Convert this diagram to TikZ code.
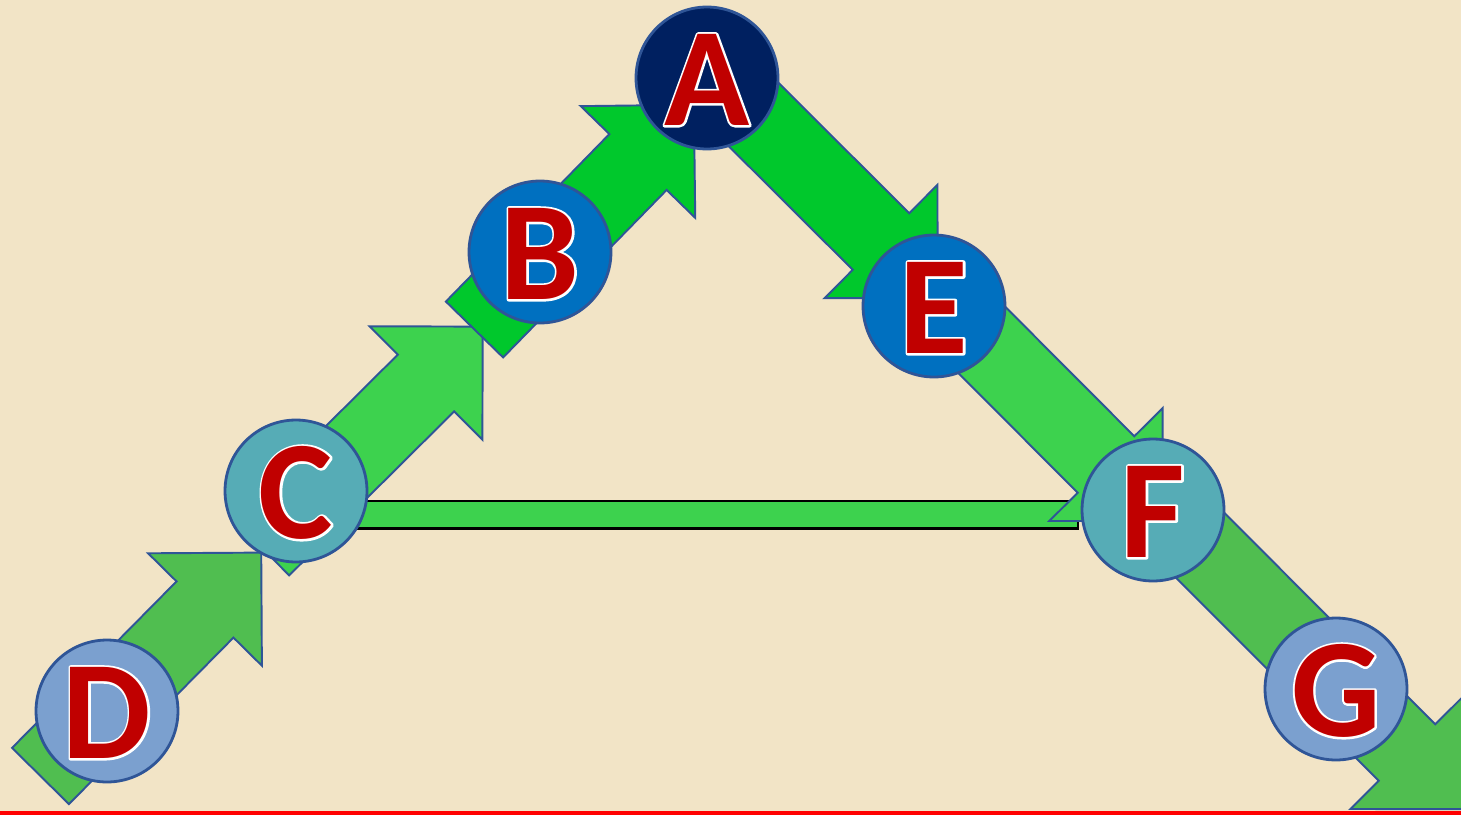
\documentclass[tikz,border=0pt]{standalone}
\usepackage{fontspec}
\setmainfont{Carlito}
\usetikzlibrary{calc}

\definecolor{paper}{HTML}{F2E4C6}
\definecolor{navyfill}{HTML}{002060}
\definecolor{bluefill}{HTML}{0070C0}
\definecolor{tealfill}{HTML}{56ACB6}
\definecolor{palefill}{HTML}{7BA0CF}
\definecolor{edgeblue}{HTML}{2F5597}
\definecolor{letterred}{HTML}{C00000}
\definecolor{greendeep}{HTML}{00C82C}
\definecolor{greenlight}{HTML}{3DD24E}
\definecolor{greenmid}{HTML}{50BE50}

% red letter with a thin white rim
\newcommand{\rimmed}[1]{%
  \special{pdf:literal direct 1 1 1 RG 2.4 w 1 j 1 Tr}\rlap{#1}%
  \special{pdf:literal direct 0 Tr}#1}

\tikzset{
  letter/.style={circle, draw=edgeblue, line width=1.6pt, minimum size=2.84cm,
    inner sep=0pt, text height=1.9cm, text depth=0pt, text=letterred,
    font=\bfseries\fontsize{80}{80}\selectfont},
  fat/.style={draw=edgeblue, line width=1.1pt, line join=miter},
  bar/.style={draw=black, line width=1.2pt, fill=greenlight},
}

% block arrow: fill colour, tail centre, centre of the head base
\newcommand{\fatarrow}[3]{%
  \draw[fat, fill=#1] ($(#2)!0.8cm!90:(#3)$) -- ($(#3)!0.8cm!-90:(#2)$)
    -- ($(#3)!1.6cm!-90:(#2)$) -- ($(#3)!1.6cm!180:(#2)$)
    -- ($(#3)!1.6cm!90:(#2)$) -- ($(#3)!0.8cm!90:(#2)$)
    -- ($(#2)!0.8cm!-90:(#3)$) -- cycle;
}

\begin{document}
\begin{tikzpicture}[x=0.02cm, y=-0.02cm]
  % page
  \useasboundingbox (0,0) rectangle (1461,815);
  \fill[paper] (0,0) rectangle (1461,815);
  \clip (0,0) rectangle (1461,815);

  % arrow ends
  \coordinate (dc-t) at (40.5,776);
  \coordinate (dc-h) at (205,609.5);
  \coordinate (cb-t) at (261,547);
  \coordinate (cb-h) at (426,383);
  \coordinate (ba-t) at (474.5,329.5);
  \coordinate (ba-h) at (638,162);
  \coordinate (ae-t) at (725,86);
  \coordinate (ae-h) at (881,241.5);
  \coordinate (ef-t) at (950,308);
  \coordinate (ef-h) at (1106,464.5);
  \coordinate (fg-t) at (1165,510);
  \coordinate (fg-h) at (1407,752.5);
  \coordinate (cf-l) at (310,501);
  \coordinate (cf-r) at (1078,528.5);

  % draw arrows
  \draw[bar] (cf-l) rectangle (cf-r);
  \fatarrow{greenmid}{dc-t}{dc-h}
  \fatarrow{greenlight}{cb-t}{cb-h}
  \fatarrow{greendeep}{ba-t}{ba-h}
  \fatarrow{greendeep}{ae-t}{ae-h}
  \fatarrow{greenlight}{ef-t}{ef-h}
  \fatarrow{greenmid}{fg-t}{fg-h}

  % vertices
  \node[letter, fill=navyfill] (A) at (707,78) {\rimmed{A}};
  \node[letter, fill=bluefill] (B) at (540,252) {\rimmed{B}};
  \node[letter, fill=tealfill] (C) at (296,491) {\rimmed{C}};
  \node[letter, fill=palefill] (D) at (107,711) {\rimmed{D}};
  \node[letter, fill=bluefill] (E) at (934,306) {\rimmed{E}};
  \node[letter, fill=tealfill] (F) at (1153,510) {\rimmed{F}};
  \node[letter, fill=palefill] (G) at (1336,689) {\rimmed{G}};

  % base line
  \fill[red] (0,810.5) rectangle (1461,815);
\end{tikzpicture}
\end{document}
